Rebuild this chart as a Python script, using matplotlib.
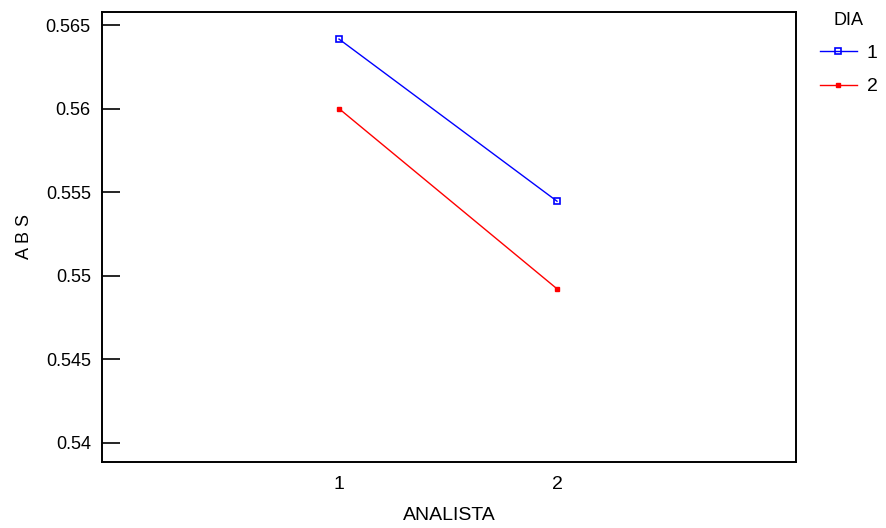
import matplotlib.pyplot as plt

# datos
analista = [1, 2]
dia_1 = [0.56416, 0.55446]
dia_2 = [0.56000, 0.54922]
yticks = [0.54, 0.545, 0.55, 0.555, 0.56, 0.565]
ylabels = ["0.54", "0.545", "0.55", "0.555", "0.56", "0.565"]

plt.rcParams['font.family'] = ['Liberation Sans', 'DejaVu Sans']

fig = plt.figure(figsize=(8.86, 5.28), dpi=100)
ax = fig.add_axes([0.1151, 0.125, 0.7833, 0.8523])

ax.plot(analista, dia_1, color="blue", lw=1, marker="s", ms=4, mfc="none", mew=1.2, label="1")
ax.plot(analista, dia_2, color="red", lw=1, marker="s", ms=3, mew=1, label="2")

ax.set_xlim(-0.087, 3.096)
ax.set_ylim(0.53886, 0.56578)
ax.set_xticks(analista)
ax.set_xticklabels(["1", "2"], fontsize=14)
ax.set_yticks(yticks)
ax.set_yticklabels(ylabels, fontsize=13)
ax.tick_params(axis="y", direction="in", length=13, width=1.2, pad=8)
ax.tick_params(axis="x", length=0, pad=10)
for s in ax.spines.values():
    s.set_linewidth(1.4)

ax.set_xlabel("ANALISTA", fontsize=14, labelpad=10)
ax.set_ylabel("A B S", fontsize=13, labelpad=9)

leg = fig.legend(title="DIA", loc="upper left", bbox_to_anchor=(820 / 886, 1 - 12 / 528),
                 frameon=False, fontsize=14, title_fontsize=13, handlelength=1.9,
                 handletextpad=0.5, labelspacing=0.8, borderpad=0, borderaxespad=0)
leg._legend_box.align = "center"

plt.savefig("out.png", dpi=100)
